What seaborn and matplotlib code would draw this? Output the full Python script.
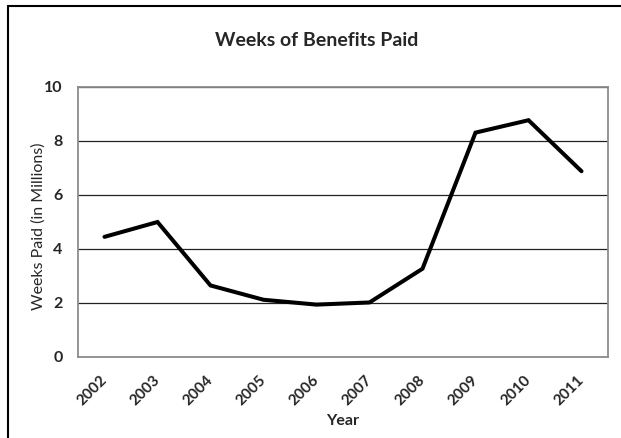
import matplotlib
matplotlib.use("Agg")
import matplotlib.pyplot as plt
from matplotlib.lines import Line2D
import seaborn as sns
import pandas as pd

years = ["2002", "2003", "2004", "2005", "2006", "2007", "2008", "2009", "2010", "2011"]
weeks_paid = [4.45, 5.0, 2.65, 2.12, 1.94, 2.02, 3.27, 8.31, 8.77, 6.88]
y_ticks = [0, 2, 4, 6, 8, 10]

sns.set_theme(style="white")
plt.rcParams["font.family"] = ["Lato", "DejaVu Sans"]

df = pd.DataFrame({"Year": years, "Weeks": weeks_paid})

fig = plt.figure(figsize=(6.21, 4.38), dpi=100)
ax = fig.add_axes([78 / 621, 1 - 357 / 438, 530 / 621, 270 / 438])

sns.lineplot(data=df, x="Year", y="Weeks", ax=ax, color="black", linewidth=2.9,
             sort=False, solid_joinstyle="miter")

ax.set_xlim(-0.5, len(years) - 0.5)
ax.set_ylim(0, 10)
ax.set_yticks(y_ticks)
ax.set_yticklabels([str(v) for v in y_ticks], fontsize=11.5, fontweight="bold")

# ticks at category boundaries, labels centered on categories
ax.set_xticks([i - 0.5 for i in range(len(years) + 1)])
ax.set_xticklabels([])
ax.set_xticks(range(len(years)), minor=True)
ax.set_xticklabels(years, minor=True, rotation=45, ha="right", va="center",
                   rotation_mode="anchor", fontsize=11, fontweight="bold")
ax.tick_params(axis="x", which="minor", length=0, pad=15)
ax.tick_params(axis="x", which="major", length=5, width=1, color="#808080", direction="out")
ax.tick_params(axis="y", length=5, width=1, color="#808080", direction="out", pad=6)

ax.yaxis.grid(True, color="#222222", linewidth=0.9)
ax.set_axisbelow(True)
for side in ["left", "bottom", "right", "top"]:
    ax.spines[side].set_visible(True)
    ax.spines[side].set_color("#8c8c8c")
    ax.spines[side].set_linewidth(1.3)

ax.set_xlabel("Year", fontsize=11.5, fontweight="bold", labelpad=4)
ax.set_ylabel("Weeks Paid (in Millions)", fontsize=11.5)
ax.yaxis.set_label_coords(-0.06, 0.485)

fig.text(317 / 621, 1 - 40 / 438, "Weeks of Benefits Paid", ha="center", va="center",
         fontsize=14, fontweight="bold")

# outer chart frame (top and left edges)
fig.add_artist(Line2D([8 / 621, 1.0], [1 - 6 / 438, 1 - 6 / 438], transform=fig.transFigure,
                      color="black", linewidth=1.5))
fig.add_artist(Line2D([8 / 621, 8 / 621], [0.0, 1 - 6 / 438], transform=fig.transFigure,
                      color="black", linewidth=1.5))

fig.savefig("out.png", dpi=100)
